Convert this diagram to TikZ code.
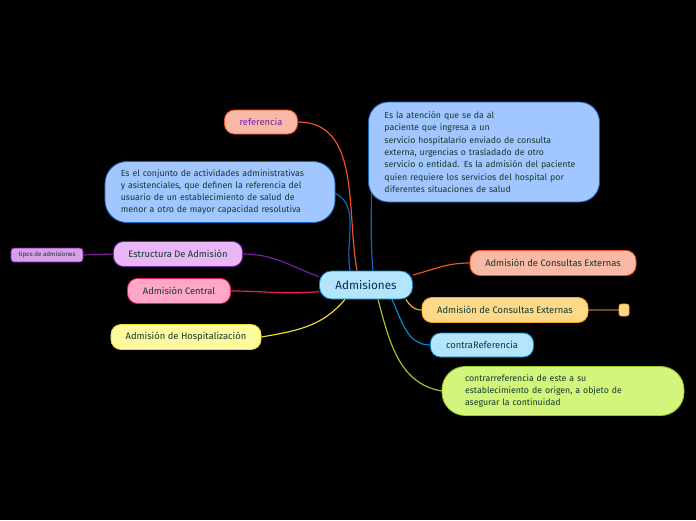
\documentclass[tikz,border=0pt]{standalone}
\usepackage{fontspec}
\setmainfont{Fira Sans}
\usetikzlibrary{positioning}

\definecolor{ink}{RGB}{18,58,44}
\definecolor{navy}{RGB}{13,42,82}
\definecolor{skyfill}{RGB}{179,229,252}
\definecolor{skyline}{RGB}{3,136,209}
\definecolor{memofill}{RGB}{162,198,255}
\definecolor{memoline}{RGB}{21,101,192}
\definecolor{salmonfill}{RGB}{249,185,166}
\definecolor{redline}{RGB}{244,81,30}
\definecolor{violetfill}{RGB}{233,182,247}
\definecolor{violetline}{RGB}{123,31,162}
\definecolor{pinkfill}{RGB}{255,166,201}
\definecolor{pinkline}{RGB}{233,30,99}
\definecolor{lemonfill}{RGB}{255,249,160}
\definecolor{lemonline}{RGB}{240,220,40}
\definecolor{amberfill}{RGB}{255,217,138}
\definecolor{amberline}{RGB}{249,168,37}
\definecolor{limefill}{RGB}{212,245,124}
\definecolor{limeline}{RGB}{154,200,40}
\definecolor{brownline}{RGB}{110,76,30}

\pgfdeclarelayer{background}
\pgfsetlayers{background,main}

\begin{document}
\begin{tikzpicture}[
    x=0.03cm, y=-0.03cm,
    topic/.style={rectangle, rounded corners=0.36cm, draw=skyline, fill=skyfill, line width=0.7pt, minimum width=2.79cm, minimum height=0.84cm, text=navy, font=\fontsize{10}{12}\selectfont},
    branch/.style={rectangle, rounded corners=0.3cm, draw, line width=0.7pt, minimum height=0.75cm, text=ink, font=\fontsize{8}{10}\selectfont},
    memo/.style={rectangle, rounded corners=0.6cm, draw=memoline, fill=memofill, line width=0.7pt, text=ink, align=left, font=\fontsize{7.5}{10.5}\selectfont},
    conn/.style={line width=1pt}
]

% Tema central
\node[topic] (adm) at (366,285) {Admisiones};

% Ramas de la izquierda
\node[branch, draw=redline, fill=salmonfill, minimum width=2.19cm, minimum height=0.72cm, text=violetline] (ref) at (261,122) {referencia};
\node[memo, text width=5.95cm, minimum width=6.9cm, minimum height=1.83cm, rounded corners=0.66cm] (conjunto) at (220,192) {Es el conjunto de actividades administrativas \\ y asistenciales, que definen la referencia del \\ usuario de un establecimiento de salud de \\ menor a otro de mayor capacidad resolutiva};
\node[branch, draw=violetline, fill=violetfill, minimum width=3.87cm] (estructura) at (178,254) {Estructura De Admisión};
\node[branch, draw=violetline, fill=violetfill!85!violetline, minimum width=2.16cm, minimum height=0.42cm, rounded corners=0.09cm, font=\fontsize{5.3}{6}\selectfont] (tipos) at (47,255) {tipos de admisiones};
\node[branch, draw=pinkline, fill=pinkfill, minimum width=3.09cm] (central) at (179,291) {Admisión Central};
\node[branch, draw=lemonline, fill=lemonfill, minimum width=4.5cm] (hosp) at (186,337) {Admisión de Hospitalización};

% Ramas de la derecha
\node[memo, text width=5.97cm, minimum width=6.93cm, minimum height=3cm] (atencion) at (484,152) {Es la atención que se da al \\ paciente que ingresa a un \\ servicio hospitalario enviado de consulta \\ externa, urgencias o trasladado de otro \\ servicio o entidad. Es la admisión del paciente \\ quien requiere los servicios del hospital por \\ diferentes situaciones de salud};
\node[branch, draw=redline, fill=salmonfill, minimum width=4.98cm] (externa1) at (553,263) {Admisión de Consultas Externas};
\node[branch, draw=amberline, fill=amberfill, minimum width=4.98cm] (externa2) at (505,310) {Admisión de Consultas Externas};
\node[rectangle, rounded corners=0.07cm, draw=amberline, fill=amberfill, line width=0.5pt, minimum width=0.3cm, minimum height=0.36cm, inner sep=0pt] (extra) at (624,310) {};
\node[branch, draw=skyline, fill=skyfill, minimum width=3.09cm, minimum height=0.72cm] (contra) at (482,345) {contraReferencia};
\node[memo, draw=limeline, fill=limefill, text width=5.88cm, minimum width=7.26cm, minimum height=1.47cm, rounded corners=0.7cm] (continuidad) at (563,391) {contrarreferencia de este a su \\ establecimiento de origen, a objeto de \\ asegurar la continuidad};

% Conexiones
\begin{pgfonlayer}{background}
\fill[black] (0,0) rectangle (696,520);
\draw[conn, redline] (ref.east) to[out=0, in=100] ([xshift=-0.27cm]adm.north);
\draw[conn, memoline] ([xshift=0.1cm, yshift=0.3cm]atencion.south west) to[out=-90, in=95] ([xshift=0.21cm]adm.north);
\draw[conn, memoline] ([xshift=-0.1cm]conjunto.east) to[out=-20, in=100] ([xshift=-0.48cm]adm.north);
\draw[conn, violetline] (estructura.east) to[out=0, in=160] (adm.170);
\draw[conn, violetline] (tipos.east) -- (estructura.west);
\draw[conn, pinkline] (central.east) to[out=0, in=185] (adm.188);
\draw[conn, lemonline] (hosp.east) to[out=10, in=-130] ([xshift=-0.63cm]adm.south);
\draw[conn, redline] (adm.12) to[out=15, in=180] (externa1.west);
\draw[conn, amberline] ([xshift=1.2cm]adm.south) to[out=-60, in=180] (externa2.west);
\draw[conn, brownline] (externa2.east) -- (extra.west);
\draw[conn, skyline] ([xshift=0.78cm]adm.south) to[out=-65, in=180] (contra.west);
\draw[conn, limeline] ([xshift=0.36cm]adm.south) to[out=-75, in=170] (continuidad.west);
\end{pgfonlayer}

\end{tikzpicture}
\end{document}
